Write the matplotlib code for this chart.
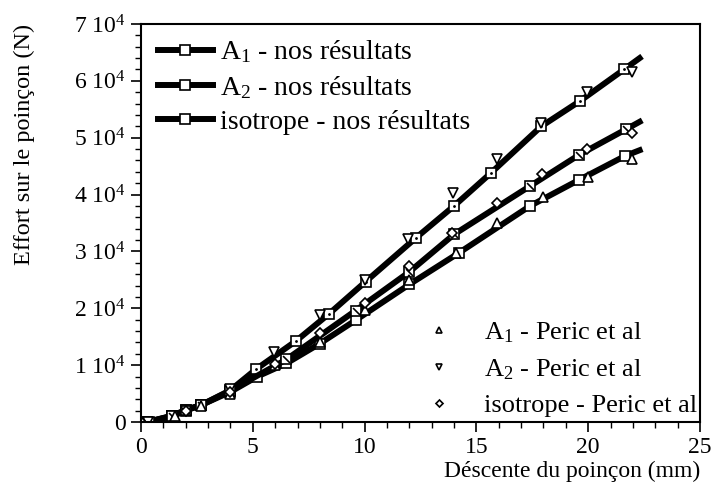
import matplotlib
matplotlib.use("Agg")
import matplotlib.pyplot as plt
from matplotlib.ticker import MultipleLocator, FuncFormatter

plt.rcParams['font.family'] = ['Liberation Serif', 'DejaVu Serif']
plt.rcParams['mathtext.fontset'] = 'custom'
plt.rcParams['mathtext.rm'] = 'Liberation Serif'
plt.rcParams['mathtext.it'] = 'Liberation Serif'

# simulation curves (nos résultats); last point is the end of the line, no marker
a1_x = [0.25, 1.4, 2.0, 2.7, 4.0, 5.2, 6.5, 8.0, 9.6, 12.0, 14.2, 17.4, 19.6, 21.65, 22.3]
a1_y = [0, 1000, 2000, 3000, 5300, 8000, 10300, 13800, 17900, 24200, 29700, 38000, 42600, 46800, 47800]

a2_x = [0.25, 1.4, 2.0, 2.7, 4.0, 5.15, 6.95, 8.4, 10.05, 12.3, 14.0, 15.65, 17.9, 19.65, 21.6, 22.3]
a2_y = [0, 1100, 2100, 3000, 5600, 9300, 14300, 19000, 24700, 32400, 38000, 43800, 52000, 56500, 62000, 64000]

iso_x = [0.35, 1.4, 2.0, 2.7, 4.0, 6.5, 9.6, 12.0, 14.0, 17.4, 19.6, 21.7, 22.3]
iso_y = [0, 1100, 2100, 3000, 5500, 11000, 19600, 26400, 33000, 41500, 47000, 51500, 52800]

# reference results (Peric et al)
p_a1_x = [0.2, 1.5, 2.7, 4.0, 6.0, 8.0, 10.0, 12.0, 14.1, 15.9, 17.96, 20.0, 21.97]
p_a1_y = [0, 1000, 2800, 5000, 10000, 14100, 19700, 25000, 29800, 34950, 39600, 43100, 46250]

p_a2_x = [0.3, 2.0, 4.0, 5.95, 8.0, 10.0, 11.93, 13.94, 15.93, 17.89, 19.93, 21.94]
p_a2_y = [0, 2000, 5800, 12300, 18850, 25000, 32200, 40200, 46200, 52600, 58100, 61600]

p_iso_x = [0.0, 2.0, 4.0, 6.0, 8.0, 10.0, 12.0, 13.9, 15.9, 17.95, 19.96, 21.95]
p_iso_y = [0, 1900, 5200, 10200, 15600, 20900, 27400, 33200, 38460, 43600, 48000, 50800]

fig = plt.figure(figsize=(7.14, 4.92), dpi=100)
ax = fig.add_axes([0.1975, 0.1423, 0.7829, 0.8089])

lw = 4.3
ms = 7
l1, = ax.plot(a1_x, a1_y, color='black', lw=lw, marker='s', ms=ms, mfc='white',
              mec='black', mew=1.2, markevery=list(range(len(a1_x) - 1)))
l2, = ax.plot(a2_x, a2_y, color='black', lw=lw, marker='s', ms=ms, mfc='white',
              mec='black', mew=1.2, markevery=list(range(len(a2_x) - 1)))
l3, = ax.plot(iso_x, iso_y, color='black', lw=lw, marker='s', ms=ms, mfc='white',
              mec='black', mew=1.2, markevery=list(range(len(iso_x) - 1)))

# inner details of the markers: dot for A2, diagonal for isotrope
ax.plot(a2_x[:-1], a2_y[:-1], ls='none', marker='.', ms=2, color='black')
ax.plot(iso_x[:-1], iso_y[:-1], ls='none', marker=(2, 0, 45), ms=ms, mew=1.2, color='black')

p1, = ax.plot(p_a1_x, p_a1_y, ls='none', marker='^', ms=7, mfc='white', mec='black', mew=1.2)
p2, = ax.plot(p_a2_x, p_a2_y, ls='none', marker='v', ms=7, mfc='white', mec='black', mew=1.2)
p3, = ax.plot(p_iso_x, p_iso_y, ls='none', marker='D', ms=5.5, mfc='white', mec='black', mew=1.2)

ax.set_xlim(0, 25)
ax.set_ylim(0, 70000)
ax.xaxis.set_major_locator(MultipleLocator(5))
ax.xaxis.set_minor_locator(MultipleLocator(1))
ax.yaxis.set_major_locator(MultipleLocator(10000))
ax.yaxis.set_minor_locator(MultipleLocator(2000))
ax.yaxis.set_major_formatter(FuncFormatter(
    lambda v, p: '0' if v == 0 else '%d 10$^4$' % round(v / 1e4)))
ax.tick_params(which='major', direction='out', length=7, width=1.2, labelsize=17, pad=4)
ax.tick_params(which='minor', direction='out', length=4, width=1)
for s in ax.spines.values():
    s.set_linewidth(1.5)

ax.set_xlabel('Déscente du poinçon (mm)', fontsize=17, loc='right', labelpad=2)
ax.set_ylabel('Effort sur le poinçon (N)', fontsize=17.5, loc='top', labelpad=28)

leg1 = ax.legend([l1, l2, l3],
                 ['A$_1$ - nos résultats', 'A$_2$ - nos résultats', 'isotrope - nos résultats'],
                 loc='upper left', bbox_to_anchor=(0.0, 1.005), frameon=False, fontsize=20,
                 handlelength=2.0, handletextpad=0.25, labelspacing=0.31, borderaxespad=0.2)
ax.add_artist(leg1)
ax.legend([p1, p2, p3],
          ['A$_1$ - Peric et al', 'A$_2$ - Peric et al', 'isotrope - Peric et al'],
          loc='lower right', bbox_to_anchor=(1.013, -0.015), frameon=False, fontsize=19,
          markerscale=0.65, handlelength=2.0, handletextpad=0.7, labelspacing=0.47,
          borderaxespad=0.0)

fig.savefig('out.png', dpi=100)
